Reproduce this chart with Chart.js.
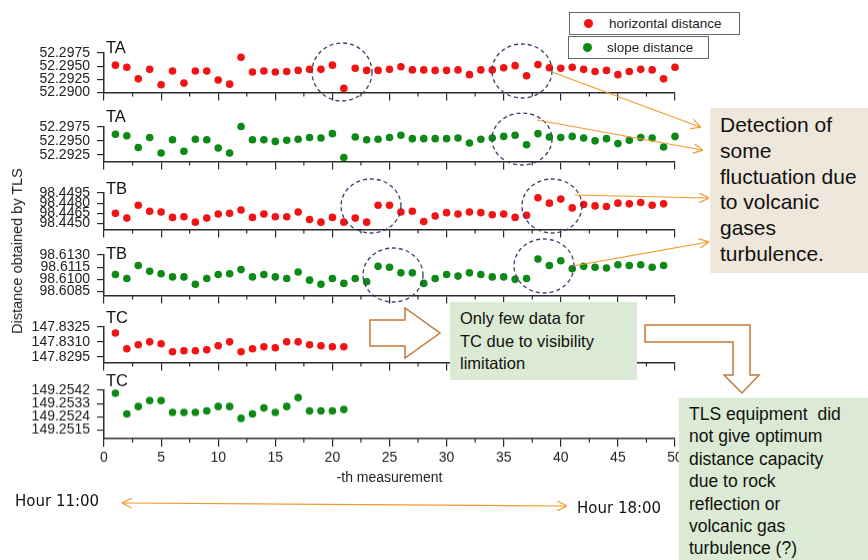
<!DOCTYPE html>
<html><head><meta charset="utf-8">
<script src="https://cdn.jsdelivr.net/npm/chart.js@4.4.1/dist/chart.umd.min.js"></script>
<style>
html,body{margin:0;padding:0;background:#fff;}
#stage{position:relative;width:868px;height:560px;overflow:hidden;font-family:'Liberation Sans',Arial,sans-serif;color:#111;}
canvas.panel{position:absolute;}
svg#ov{position:absolute;left:0;top:0;}
.box{position:absolute;white-space:pre;box-sizing:border-box;}
.leg{position:absolute;border:1px solid #666;background:#fff;box-sizing:border-box;font-size:13.5px;color:#222;}
.leg .dot{position:absolute;width:9px;height:9px;border-radius:50%;}
.leg .t{position:absolute;white-space:nowrap;}
</style></head>
<body><div id="stage">
<svg id="ov" width="868" height="560" xmlns="http://www.w3.org/2000/svg">
 <defs>
  <marker id="ah" viewBox="0 0 10 10" refX="9" refY="5" markerWidth="10" markerHeight="10" markerUnits="userSpaceOnUse" orient="auto-start-reverse">
   <path d="M0,0 L10,5 L0,10" fill="none" stroke="#f39a2e" stroke-width="1.2"/>
  </marker>
 </defs>
 <g fill="none" stroke="#3c3c6e" stroke-width="1.3" stroke-dasharray="4 3">
  <ellipse cx="342" cy="72" rx="30" ry="29"/>
  <ellipse cx="522" cy="71" rx="30" ry="27"/>
  <ellipse cx="522" cy="139" rx="30" ry="26"/>
  <ellipse cx="371" cy="206" rx="30" ry="27"/>
  <ellipse cx="552" cy="206" rx="30" ry="27"/>
  <ellipse cx="393" cy="275" rx="30" ry="27"/>
  <ellipse cx="544" cy="266" rx="30" ry="27"/>
 </g>
 <g stroke="#f39a2e" stroke-width="1.2" fill="none">
  <line x1="552" y1="72" x2="700" y2="127" marker-end="url(#ah)"/>
  <line x1="537" y1="120" x2="702" y2="150" marker-end="url(#ah)"/>
  <line x1="575" y1="195" x2="708" y2="198" marker-end="url(#ah)"/>
  <line x1="573" y1="266" x2="708" y2="242" marker-end="url(#ah)"/>
  <line x1="123" y1="503" x2="566" y2="506" marker-start="url(#ah)" marker-end="url(#ah)"/>
 </g>
 <polygon points="370,320 405,320 405,308 440,333 405,358 405,346 370,346" fill="#fff" stroke="#c47a3a" stroke-width="1.5"/>
 <polygon points="645,325 750,325 750,375 759,375 742,393 724,375 733,375 733,342 645,342" fill="#fff" stroke="#c47a3a" stroke-width="1.5"/>
</svg>

<div class="leg" style="left:569px;top:12px;width:171px;height:23px;">
 <div class="dot" style="left:14px;top:6px;background:#f21414;"></div>
 <div class="t" style="left:39px;top:3px;">horizontal distance</div>
</div>
<div class="leg" style="left:568px;top:36px;width:141px;height:23px;">
 <div class="dot" style="left:14px;top:6px;background:#0d8a16;"></div>
 <div class="t" style="left:38px;top:3px;">slope distance</div>
</div>

<div class="box" style="left:710px;top:108px;width:158px;height:165px;background:#efe7dc;padding:4px 0 0 10px;font-size:21px;line-height:25.8px;color:#111;">Detection of
some
fluctuation due
to volcanic
gases
turbulence.</div>

<div class="box" style="left:450px;top:302px;width:187px;height:78px;background:#dbead4;padding:5px 0 0 10px;font-size:16.5px;line-height:22.5px;color:#111;">Only few data for
TC due to visibility
limitation</div>

<div class="box" style="left:679px;top:398px;width:189px;height:162px;background:#dbead4;padding:5px 0 0 10px;font-size:17.5px;line-height:22.4px;color:#111;">TLS equipment  did
not give optimum
distance capacity
due to rock
reflection or
volcanic gas
turbulence (?)</div>

<div class="box" style="left:15px;top:491px;font-family:'DejaVu Sans',sans-serif;font-size:15px;line-height:20px;color:#111;">Hour 11:00</div>
<div class="box" style="left:577px;top:498px;font-family:'DejaVu Sans',sans-serif;font-size:15px;line-height:20px;color:#111;">Hour 18:00</div>

<div class="box" style="left:17px;top:251px;transform:translate(-50%,-50%) rotate(-90deg);font-size:14.5px;line-height:18px;color:#222;">Distance obtained by TLS</div>
</div>

<script>
// ---- data ----
const MEASUREMENT = [1,2,3,4,5,6,7,8,9,10,11,12,13,14,15,16,17,18,19,20,21,22,23,24,25,26,27,28,29,30,31,32,33,34,35,36,37,38,39,40,41,42,43,44,45,46,47,48,49,50];
const X_TICKS = [0,5,10,15,20,25,30,35,40,45,50];
const X_MINOR_TICKS = [2.5,7.5,12.5,17.5,22.5,27.5,32.5,37.5,42.5,47.5];

const TA_HORIZONTAL = [52.2952,52.2948,52.2926,52.2944,52.2915,52.2941,52.2918,52.2941,52.2941,52.2924,52.2916,52.2967,52.2939,52.2941,52.2939,52.2940,52.2942,52.2944,52.2944,52.2952,52.2908,52.2946,52.2942,52.2942,52.2944,52.2949,52.2943,52.2943,52.2942,52.2942,52.2943,52.2934,52.2943,52.2943,52.2947,52.2951,52.2932,52.2953,52.2947,52.2946,52.2948,52.2944,52.2940,52.2942,52.2934,52.2940,52.2944,52.2943,52.2926,52.2948];
const TA_SLOPE = [52.2962,52.2959,52.2938,52.2956,52.2928,52.2952,52.2931,52.2953,52.2952,52.2937,52.2928,52.2976,52.2952,52.2952,52.2949,52.2951,52.2953,52.2956,52.2955,52.2963,52.2920,52.2957,52.2952,52.2953,52.2956,52.2960,52.2954,52.2954,52.2954,52.2954,52.2955,52.2946,52.2953,52.2955,52.2958,52.2960,52.2943,52.2963,52.2957,52.2956,52.2958,52.2955,52.2950,52.2954,52.2945,52.2951,52.2956,52.2955,52.2939,52.2958];
const TB_HORIZONTAL = [98.4465,98.4458,98.4477,98.4468,98.4467,98.4459,98.4460,98.4452,98.4458,98.4464,98.4465,98.4470,98.4459,98.4464,98.4460,98.4460,98.4467,98.4456,98.4452,98.4459,98.4452,98.4458,98.4452,98.4477,98.4477,98.4467,98.4468,98.4453,98.4461,98.4466,98.4464,98.4467,98.4466,98.4463,98.4464,98.4459,98.4462,98.4488,98.4480,98.4486,98.4473,98.4478,98.4476,98.4475,98.4480,98.4479,98.4481,98.4477,98.4479];
const TB_SLOPE = [98.6106,98.6101,98.6117,98.6110,98.6107,98.6103,98.6103,98.6094,98.6101,98.6106,98.6107,98.6112,98.6103,98.6106,98.6103,98.6101,98.6109,98.6099,98.6094,98.6101,98.6095,98.6101,98.6097,98.6116,98.6115,98.6108,98.6108,98.6095,98.6101,98.6106,98.6104,98.6108,98.6106,98.6103,98.6103,98.6100,98.6101,98.6125,98.6117,98.6123,98.6113,98.6116,98.6115,98.6114,98.6118,98.6117,98.6118,98.6115,98.6117];
const TC_HORIZONTAL = [147.8319,147.8303,147.8307,147.8310,147.8308,147.8300,147.8301,147.8301,147.8302,147.8306,147.8310,147.8300,147.8303,147.8305,147.8304,147.8310,147.8310,147.8307,147.8306,147.8305,147.8305];
const TC_SLOPE = [149.2540,149.2526,149.2531,149.2535,149.2535,149.2527,149.2527,149.2527,149.2528,149.2531,149.2531,149.2523,149.2526,149.2530,149.2527,149.2531,149.2537,149.2528,149.2528,149.2528,149.2529];

const TA_H_TICKS = [52.2900,52.2925,52.2950,52.2975];
const TA_S_TICKS = [52.2925,52.2950,52.2975];
const TB_H_TICKS = [98.4450,98.4465,98.4480,98.4495];
const TB_S_TICKS = [98.6085,98.6100,98.6115,98.6130];
const TC_H_TICKS = [147.8295,147.8310,147.8325];
const TC_S_TICKS = [149.2515,149.2524,149.2533,149.2542];

const TA_H_RANGE = [52.2900,52.2975];
const TA_S_RANGE = [52.29125,52.2975];
const TB_H_RANGE = [98.4441,98.4495];
const TB_S_RANGE = [98.6080,98.6130];
const TC_H_RANGE = [147.8289,147.8325];
const TC_S_RANGE = [149.25093,149.2542];

const SERIES_NAMES = ['horizontal distance','slope distance'];
const STATIONS = ['TA','TA','TB','TB','TC','TC'];

// ---- styles ----
const RED = '#f21414', GREEN = '#0d8a16', AXIS = '#2b2b2b', FONT = "'Liberation Sans', Arial, sans-serif";

const minorTicks = {
  id:'minorTicks',
  afterDraw(chart){
    const xs = chart.scales.x, ctx = chart.ctx, y0 = chart.chartArea.bottom;
    ctx.save(); ctx.strokeStyle = AXIS; ctx.lineWidth = 1.2;
    X_MINOR_TICKS.forEach(v => {
      const px = xs.getPixelForValue(v);
      ctx.beginPath(); ctx.moveTo(px, y0); ctx.lineTo(px, y0 + 4); ctx.stroke();
    });
    ctx.restore();
  }
};
const panelLabel = {
  id:'panelLabel',
  afterDraw(chart, args, opts){
    const ctx = chart.ctx, ca = chart.chartArea;
    ctx.save(); ctx.fillStyle = '#111'; ctx.font = '16.5px ' + FONT; ctx.textBaseline = 'alphabetic';
    ctx.fillText(opts.text, ca.left + 2, ca.top + opts.dy);
    ctx.restore();
  }
};

function makeConfig(values, name, color, ticks, range, label, dy, bottom){
  return {
    type:'scatter',
    data:{datasets:[{label:name, data: values.map((v,i)=>({x:MEASUREMENT[i], y:v})),
      backgroundColor:color, borderColor:color, borderWidth:0, pointRadius:3.8, pointHoverRadius:3.8, clip:false}]},
    options:{
      responsive:false, animation:false, events:[],
      layout:{padding:{left:0,right:25,top:24,bottom:2}},
      plugins:{legend:{display:false}, tooltip:{enabled:false}, panelLabel:{text:label, dy:dy}},
      scales:{
        x:{type:'linear', min:0, max:50,
          afterBuildTicks: s => { s.ticks = X_TICKS.map(v => ({value:v})); },
          grid:{display:true, drawOnChartArea:false, drawTicks:true, tickLength:8, color:AXIS, lineWidth:1.2},
          border:{display:true, color:AXIS, width:1.5},
          ticks:{display:bottom, font:{size:14, family:FONT}, color:'#222', padding:3, maxRotation:0, autoSkip:false},
          title:{display:bottom, text:'-th measurement', font:{size:14, family:FONT}, color:'#222', padding:{top:9,bottom:0}}
        },
        y:{type:'linear', min:range[0], max:range[1],
          afterBuildTicks: s => { s.ticks = ticks.map(v => ({value:v})); },
          afterFit: s => { s.width = 104; },
          grid:{display:true, drawOnChartArea:false, drawTicks:true, tickLength:7, color:AXIS, lineWidth:1.2},
          border:{display:true, color:AXIS, width:1.5},
          ticks:{font:{size:14, family:FONT}, color:'#222', padding:7, autoSkip:false, callback: v => Number(v).toFixed(4)}
        }
      }
    },
    plugins:[minorTicks, panelLabel]
  };
}

const stage = document.getElementById('stage');
const ov = document.getElementById('ov');
function create(L,T,W,H,cfg){
  const c = document.createElement('canvas');
  c.className = 'panel'; c.width = W; c.height = H;
  c.style.left = L+'px'; c.style.top = T+'px'; c.style.width = W+'px'; c.style.height = H+'px';
  stage.insertBefore(c, ov);
  const chart = new Chart(c.getContext('2d'), cfg);
  return {c, chart};
}
function panel(args, want){
  let L = 0, T = want.top - 30, W = want.right + 25, H = (want.bottom - want.top) + 30 + (args[7] ? 70 : 14);
  let r = create(L,T,W,H, makeConfig(...args));
  const ca = r.chart.chartArea;
  const dl = want.left-(L+ca.left), dt = want.top-(T+ca.top), dr = want.right-(L+ca.right), db = want.bottom-(T+ca.bottom);
  if (Math.abs(dl)+Math.abs(dt)+Math.abs(dr)+Math.abs(db) > 0.01){
    r.chart.destroy(); r.c.remove();
    r = create(L+dl, T+dt, W+dr-dl, H+db-dt, makeConfig(...args));
  }
  return r;
}

panel([TA_HORIZONTAL, SERIES_NAMES[0], RED, TA_H_TICKS, TA_H_RANGE, STATIONS[0], 0, false], {left:104,right:675,top:53,bottom:93});
panel([TA_SLOPE, SERIES_NAMES[1], GREEN, TA_S_TICKS, TA_S_RANGE, STATIONS[1], -5, false], {left:104,right:675,top:127,bottom:162});
panel([TB_HORIZONTAL, SERIES_NAMES[0], RED, TB_H_TICKS, TB_H_RANGE, STATIONS[2], 1, false], {left:104,right:675,top:193,bottom:230});
panel([TB_SLOPE, SERIES_NAMES[1], GREEN, TB_S_TICKS, TB_S_RANGE, STATIONS[3], 4, false], {left:104,right:675,top:255,bottom:296});
panel([TC_HORIZONTAL, SERIES_NAMES[0], RED, TC_H_TICKS, TC_H_RANGE, STATIONS[4], -4, false], {left:104,right:675,top:327,bottom:363});
panel([TC_SLOPE, SERIES_NAMES[1], GREEN, TC_S_TICKS, TC_S_RANGE, STATIONS[5], -4, true], {left:104,right:675,top:390,bottom:430});
</script>
</body></html>
